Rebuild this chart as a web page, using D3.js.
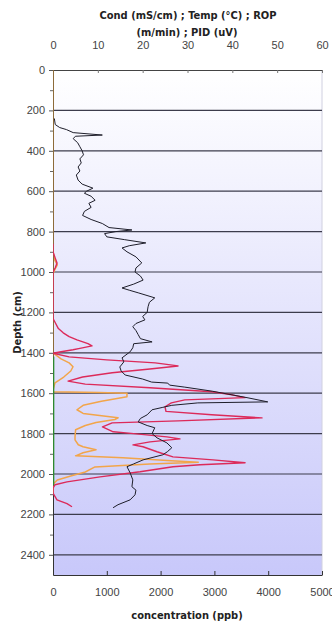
<!DOCTYPE html>
<html>
<head>
<meta charset="utf-8">
<script src="https://cdn.jsdelivr.net/npm/d3@7/dist/d3.min.js"></script>
<style>
	body { margin: 0; background: #fff; }
	.tick text { font-family: "Liberation Sans", Arial, sans-serif; font-size: 11px; fill: #444; }
	.title { font-family: "DejaVu Sans", sans-serif; font-stretch: condensed; font-weight: bold; font-size: 11px; fill: #222; }
</style>
</head>
<body>
<svg id="chart" width="332" height="623"></svg>
<script>
// depth ticks (cm)
var depthTicks = [0, 200, 400, 600, 800, 1000, 1200, 1400, 1600, 1800, 2000, 2200, 2400];
var topTicks = [0, 10, 20, 30, 40, 50, 60];
var bottomTicks = [0, 1000, 2000, 3000, 4000, 5000];

// PID (uV) - top axis
var pidDepth = [240, 270, 285, 295, 310, 322, 328, 340, 360, 380, 400, 420, 440, 460, 480, 500, 520, 545, 565, 585, 600, 610, 625, 645, 660, 680, 700, 720, 740, 760, 780, 792, 800, 810, 826, 840, 856, 870, 881, 900, 925, 955, 980, 1000, 1020, 1040, 1060, 1079, 1090, 1103, 1128, 1150, 1172, 1200, 1220, 1237, 1255, 1271, 1290, 1310, 1330, 1346, 1355, 1375, 1395, 1425, 1445, 1470, 1490, 1510, 1530, 1545, 1550, 1560, 1570, 1590, 1608, 1623, 1643, 1648, 1660, 1670, 1682, 1707, 1725, 1742, 1760, 1771, 1800, 1821, 1846, 1870, 1890, 1905, 1930, 1950, 1964, 1994, 2029, 2063, 2080, 2103, 2128, 2152, 2167];
var pidValue = [0.3, 0.5, 1.5, 3.0, 4.5, 11.0, 5.0, 4.5, 5.5, 6.0, 6.5, 6.8, 6.0, 6.3, 5.6, 6.0, 5.2, 5.6, 6.5, 8.9, 7.5, 7.0, 8.5, 9.4, 8.0, 8.5, 7.0, 6.6, 8.5, 11.0, 12.5, 17.6, 14.0, 11.5, 12.0, 16.0, 20.7, 17.0, 15.4, 16.5, 18.5, 19.8, 18.5, 18.3, 19.5, 20.1, 18.0, 15.4, 17.0, 19.0, 22.7, 21.5, 21.2, 21.0, 20.0, 20.5, 18.5, 17.8, 18.5, 19.0, 19.5, 22.1, 18.0, 17.8, 17.2, 15.4, 15.8, 14.9, 15.2, 16.1, 20.0, 22.0, 25.6, 26.0, 29.4, 35.5, 39.9, 43.5, 47.9, 32.3, 26.5, 24.5, 22.1, 21.0, 19.5, 19.0, 21.0, 22.7, 22.1, 23.2, 25.4, 26.5, 25.5, 24.5, 20.1, 18.0, 16.5, 17.2, 17.8, 17.6, 18.5, 18.3, 17.2, 14.5, 13.4];

// concentration (ppb) - bottom axis
var redDepth = [860, 900, 930, 955, 980, 1000, 1230, 1250, 1280, 1301, 1320, 1336, 1355, 1366, 1378, 1385, 1395, 1402, 1420, 1435, 1450, 1465, 1480, 1499, 1520, 1540, 1555, 1573, 1593, 1608, 1622, 1633, 1648, 1667, 1690, 1707, 1722, 1737, 1747, 1767, 1791, 1800, 1816, 1826, 1841, 1856, 1865, 1890, 1915, 1930, 1944, 1954, 1964, 1989, 2014, 2039, 2053, 2070, 2095, 2128, 2147, 2162];
var redValue = [0, 0, 40, 75, 40, 0, 0, 40, 100, 190, 300, 446, 650, 725, 500, 372, 150, 0, 300, 1000, 1900, 2324, 1800, 1100, 550, 280, 600, 1800, 2950, 3330, 3570, 2450, 2200, 2082, 2100, 2950, 3885, 2324, 1100, 920, 1120, 1500, 2119, 2360, 1803, 1487, 1673, 1933, 2230, 2975, 3570, 2733, 2230, 1617, 874, 260, 37, 0, 0, 74, 260, 353];

var orangeDepth = [0, 900, 940, 965, 990, 1010, 1400, 1430, 1450, 1469, 1490, 1520, 1549, 1585, 1593, 1596, 1600, 1618, 1640, 1660, 1682, 1700, 1722, 1730, 1745, 1760, 1781, 1816, 1831, 1855, 1865, 1880, 1895, 1910, 1920, 1935, 1942, 1950, 1965, 1990, 2010, 2030, 2050, 2100];
var orangeValue = [0, 0, 30, 80, 30, 0, 0, 150, 300, 372, 330, 200, 37, 0, 0, 850, 1375, 1375, 900, 560, 446, 560, 1210, 1150, 800, 600, 420, 409, 409, 470, 558, 800, 558, 420, 1300, 2200, 2700, 1800, 780, 600, 330, 80, 0, 0];

// ROP and Temp near zero - top axis
var ropDepth = [0, 700, 1420];
var ropValue = [0.1, 0.1, 0.1];
var tempDepth = [1420, 1700, 2060];
var tempValue = [0.15, 0.15, 0.15];

var margin = { top: 70, left: 53 },
	width = 269,
	height = 505;

var svg = d3.select('#chart');

var defs = svg.append('defs');
var grad = defs.append('linearGradient')
	.attr('id', 'bg')
	.attr('x1', 0).attr('y1', 0).attr('x2', 0).attr('y2', 1);
grad.append('stop').attr('offset', '0%').attr('stop-color', '#ffffff');
grad.append('stop').attr('offset', '100%').attr('stop-color', '#c8c8fa');

defs.append('clipPath').attr('id', 'clip')
	.append('rect').attr('width', width).attr('height', height);

var g = svg.append('g')
	.attr('transform', 'translate(' + margin.left + ',' + margin.top + ')');

var y = d3.scaleLinear().domain([0, 2500]).range([0, height]);
var xTop = d3.scaleLinear().domain([0, 60]).range([0, width]);
var xBot = d3.scaleLinear().domain([0, 5000]).range([0, width]);

g.append('rect')
	.attr('width', width)
	.attr('height', height)
	.attr('fill', 'url(#bg)');

g.append('line')
	.attr('x1', width).attr('x2', width)
	.attr('y1', 0).attr('y2', height)
	.attr('stroke', '#d0d0e0');

// gridlines
g.selectAll('.grid')
	.data(depthTicks.filter(function(d){ return d > 0; }))
	.enter().append('line')
	.attr('class', 'grid')
	.attr('x1', 0)
	.attr('x2', width)
	.attr('y1', function(d){ return y(d); })
	.attr('y2', function(d){ return y(d); })
	.attr('stroke', '#3c3c4c')
	.attr('stroke-width', 1.2);

// minor depth ticks
g.append('g')
	.attr('class', 'y minor')
	.call(d3.axisLeft(y)
		.tickValues(d3.range(100, 2500, 200))
		.tickSize(3)
		.tickSizeOuter(0)
		.tickFormat(''))
	.call(function(s){ s.select('.domain').remove(); s.selectAll('line').attr('stroke', '#666'); });

g.append('g')
	.attr('class', 'y axis')
	.call(d3.axisLeft(y)
		.tickValues(depthTicks)
		.tickFormat(d3.format('d'))
		.tickSize(4)
		.tickPadding(4)
		.tickSizeOuter(0))
	.call(function(s){ s.select('.domain').attr('stroke', '#333'); s.selectAll('line').attr('stroke', '#555'); });

g.append('g')
	.attr('class', 'x top axis')
	.call(d3.axisTop(xTop)
		.tickValues(topTicks)
		.tickFormat(d3.format('d'))
		.tickSize(-3)
		.tickPadding(21)
		.tickSizeOuter(0))
	.call(function(s){ s.select('.domain').attr('stroke', '#444'); s.selectAll('line').attr('stroke', '#777'); });

g.append('g')
	.attr('class', 'x bottom axis')
	.attr('transform', 'translate(0,' + height + ')')
	.call(d3.axisBottom(xBot)
		.tickValues(bottomTicks)
		.tickFormat(d3.format('d'))
		.tickSize(-4)
		.tickPadding(13)
		.tickSizeOuter(0))
	.call(function(s){ s.select('.domain').attr('stroke', '#333'); s.selectAll('line').attr('stroke', '#333'); });

var lines = g.append('g').attr('clip-path', 'url(#clip)');

function series(depths, values, xs, color, w){
	var pts = depths.map(function(d, i){ return [values[i], d]; });
	var line = d3.line()
		.x(function(p){ return xs(p[0]); })
		.y(function(p){ return y(p[1]); });
	lines.append('path')
		.datum(pts)
		.attr('d', line)
		.attr('fill', 'none')
		.attr('stroke', color)
		.attr('stroke-width', w)
		.attr('stroke-linejoin', 'round');
}

series(orangeDepth, orangeValue, xBot, '#f2a54a', 1.5);
series(ropDepth, ropValue, xTop, '#8a6a3a', 1);
series(tempDepth, tempValue, xTop, '#2e8b2e', 1.3);
series(redDepth, redValue, xBot, '#dc2a5a', 1.4);
series(pidDepth, pidValue, xTop, '#1e1e2a', 1);

// titles
svg.append('text')
	.attr('class', 'title')
	.attr('x', 188).attr('y', 19)
	.attr('text-anchor', 'middle')
	.text('Cond (mS/cm) ; Temp (°C) ; ROP');

svg.append('text')
	.attr('class', 'title')
	.attr('x', 187).attr('y', 36)
	.attr('text-anchor', 'middle')
	.text('(m/min) ; PID (uV)');

svg.append('text')
	.attr('class', 'title')
	.attr('text-anchor', 'middle')
	.attr('transform', 'translate(21,' + (margin.top + height / 2) + ') rotate(-90)')
	.text('Depth (cm)');

svg.append('text')
	.attr('class', 'title')
	.attr('x', 187).attr('y', 619)
	.attr('text-anchor', 'middle')
	.text('concentration (ppb)');
</script>
</body>
</html>
